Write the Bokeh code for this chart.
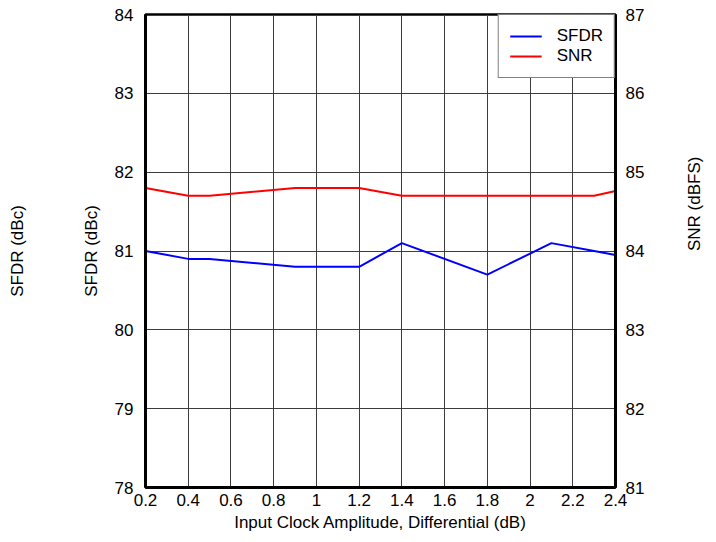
import math
from bokeh.plotting import figure
from bokeh.models import Range1d, LinearAxis, FixedTicker, Legend, LegendItem
from bokeh.embed import file_html
from bokeh.resources import INLINE

# ---- data ----
sfdr_x = [0.2, 0.4, 0.5, 0.9, 1.2, 1.4, 1.8, 2.1, 2.3, 2.4]
sfdr_y = [81.0, 80.9, 80.9, 80.8, 80.8, 81.1, 80.7, 81.1, 81.0, 80.95]
snr_x = [0.2, 0.4, 0.5, 0.9, 1.2, 1.4, 2.3, 2.4]
snr_y = [84.8, 84.7, 84.7, 84.8, 84.8, 84.7, 84.7, 84.76]
x_ticks = [0.2, 0.4, 0.6, 0.8, 1.0, 1.2, 1.4, 1.6, 1.8, 2.0, 2.2, 2.4]
x_tick_labels = ["0.2", "0.4", "0.6", "0.8", "1", "1.2", "1.4", "1.6", "1.8", "2", "2.2", "2.4"]
sfdr_ticks = [78, 79, 80, 81, 82, 83, 84]
snr_ticks = [81, 82, 83, 84, 85, 86, 87]

FONT = "Liberation Sans"
FS = "17px"

p = figure(width=716, height=542, output_backend="svg", toolbar_location=None,
           x_range=Range1d(0.2, 2.4), y_range=Range1d(78, 84),
           min_border_left=145, min_border_right=99, min_border_top=14, min_border_bottom=55)
p.extra_y_ranges = {"snr": Range1d(81, 87)}
p.outline_line_color = "black"
p.outline_line_width = 2.5
p.background_fill_color = "white"
p.border_fill_color = "white"

def style_axis(ax):
    ax.axis_line_color = "black"
    ax.axis_line_width = 3
    ax.major_tick_in = 0
    ax.major_tick_out = 0
    ax.minor_tick_in = 0
    ax.minor_tick_out = 0
    ax.major_label_text_font = FONT
    ax.major_label_text_font_size = FS
    ax.major_label_text_color = "black"
    ax.axis_label_text_font = FONT
    ax.axis_label_text_font_size = FS
    ax.axis_label_text_font_style = "normal"
    ax.axis_label_text_color = "black"

# x axis
xa = p.xaxis[0]
style_axis(xa)
xa.ticker = FixedTicker(ticks=x_ticks)
xa.major_label_overrides = {t: l for t, l in zip(x_ticks, x_tick_labels)}
xa.axis_label = "Input Clock Amplitude, Differential (dB)"
xa.major_label_standoff = 6
xa.axis_label_standoff = 4

# left axis
ya = p.yaxis[0]
style_axis(ya)
ya.ticker = FixedTicker(ticks=sfdr_ticks)
ya.axis_label = "SFDR (dBc)"
ya.major_label_standoff = 12
ya.axis_label_standoff = 11

# outer duplicate left title
ya2 = LinearAxis(ticker=FixedTicker(ticks=[]), axis_label="SFDR (dBc)")
style_axis(ya2)
ya2.axis_line_color = None
ya2.axis_label_standoff = 52
p.add_layout(ya2, "left")

# right axis
yr = LinearAxis(y_range_name="snr", ticker=FixedTicker(ticks=snr_ticks), axis_label="SNR (dBFS)")
style_axis(yr)
yr.major_label_standoff = 10
yr.axis_label_standoff = 47
yr.axis_label_orientation = math.pi / 2
p.add_layout(yr, "right")

# grid
p.xgrid.ticker = FixedTicker(ticks=x_ticks)
p.ygrid.ticker = FixedTicker(ticks=sfdr_ticks)
for g in (p.xgrid[0], p.ygrid[0]):
    g.grid_line_color = "#3c3c3c"
    g.grid_line_width = 1

r1 = p.line(sfdr_x, sfdr_y, line_color="#0000FF", line_width=2)
r2 = p.line(snr_x, snr_y, line_color="#FF0000", line_width=2, y_range_name="snr")

legend = Legend(items=[LegendItem(label="SFDR", renderers=[r1]),
                       LegendItem(label="SNR", renderers=[r2])],
                location="top_right", margin=0, padding=11, spacing=0,
                border_line_color="black", border_line_width=1.5,
                label_text_font=FONT, label_text_font_size=FS, label_text_color="black",
                glyph_width=32, glyph_height=20, label_height=20, label_standoff=15,
                background_fill_color="white", background_fill_alpha=1.0)
p.add_layout(legend)

open("out.html", "w").write(file_html(p, INLINE))
